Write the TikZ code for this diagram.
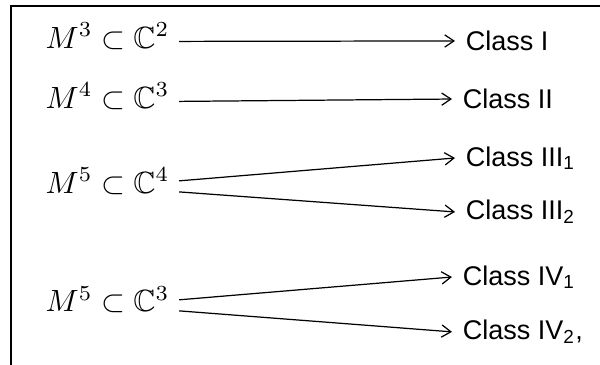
\documentclass[tikz,border=0pt]{standalone}
\usepackage{amsmath}
\usepackage{amssymb}
\usepackage{fontspec}
\usetikzlibrary{arrows.meta}
\newfontfamily\classfont{Liberation Sans}

\begin{document}
\begin{tikzpicture}[>={Straight Barb[length=3pt,width=4pt]},
		man/.style={anchor=base west,inner xsep=3pt,inner ysep=0pt},
		cls/.style={anchor=west,font=\classfont\fontsize{8.8}{10}\selectfont}]
				\useasboundingbox (0,0) rectangle (6.87,-4.17);
				\clip (0,0) rectangle (6.87,-4.17);
				\draw [thick] (0.126,-0.069) rectangle (7.5,-4.6);

				\node [man] (M1) at (0.41,-0.55) {$M^3\subset\mathbb{C}^2$};
				\node [man] (M2) at (0.41,-1.237) {$M^4\subset\mathbb{C}^3$};
				\node [man] (M3) at (0.41,-2.21) {$M^5\subset\mathbb{C}^4$};
				\node [man] (M4) at (0.41,-3.572) {$M^5\subset\mathbb{C}^3$};

				\node [cls] (I) at (5.21,-0.469) {Class I};
				\node [cls] (II) at (5.175,-1.134) {Class II};
				\node [cls] (IIIa) at (5.21,-1.809) {Class III\textsubscript{1}};
				\node [cls] (IIIb) at (5.21,-2.427) {Class III\textsubscript{2}};
				\node [cls] (IVa) at (5.175,-3.172) {Class IV\textsubscript{1}};
				\node [cls] (IVb) at (5.175,-3.8) {Class IV\textsubscript{2},};

				\draw [->] (M1.mid east)--(I.west);
				\draw [->] (M2.mid east)--(II.west);
				\draw [->] ([yshift=1.8pt]M3.mid east)--(IIIa.west);
				\draw [->] ([yshift=-1.8pt]M3.mid east)--(IIIb.west);
				\draw [->] ([yshift=1.8pt]M4.mid east)--(IVa.west);
				\draw [->] ([yshift=-1.8pt]M4.mid east)--(IVb.west);

			\end{tikzpicture}
\end{document}
